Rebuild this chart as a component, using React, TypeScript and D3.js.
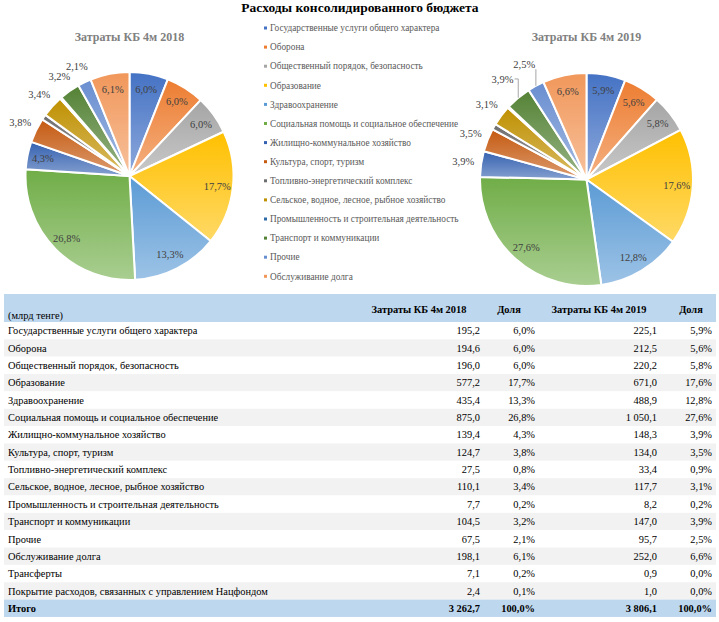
import React, { useEffect, useRef } from "react";
import * as d3 from "d3";

// Table rows (the first 14 are also drawn in the pies)
const categories = [
  "Государственные услуги общего характера",
  "Оборона",
  "Общественный порядок, безопасность",
  "Образование",
  "Здравоохранение",
  "Социальная помощь и социальное обеспечение",
  "Жилищно-коммунальное хозяйство",
  "Культура, спорт, туризм",
  "Топливно-энергетический комплекс",
  "Сельское, водное, лесное, рыбное хозяйство",
  "Промышленность и строительная деятельность",
  "Транспорт и коммуникации",
  "Прочие",
  "Обслуживание долга",
  "Трансферты",
  "Покрытие расходов, связанных с управлением Нацфондом",
];
const values2018 = [195.2, 194.6, 196.0, 577.2, 435.4, 875.0, 139.4, 124.7, 27.5, 110.1, 7.7, 104.5, 67.5, 198.1, 7.1, 2.4];
const shares2018 = [6.0, 6.0, 6.0, 17.7, 13.3, 26.8, 4.3, 3.8, 0.8, 3.4, 0.2, 3.2, 2.1, 6.1, 0.2, 0.1];
const values2019 = [225.1, 212.5, 220.2, 671.0, 488.9, 1050.1, 148.3, 134.0, 33.4, 117.7, 8.2, 147.0, 95.7, 252.0, 0.9, 1.0];
const shares2019 = [5.9, 5.6, 5.8, 17.6, 12.8, 27.6, 3.9, 3.5, 0.9, 3.1, 0.2, 3.9, 2.5, 6.6, 0.0, 0.0];
const total2018 = 3262.7;
const total2019 = 3806.1;
const pieCount = 14;

const colors = [
  "#4472C4", "#ED7D31", "#A5A5A5", "#FFC000", "#5B9BD5", "#70AD47",
  "#3461B0", "#C55A11", "#6E6E6E", "#BF9000", "#2E6BA8", "#548235",
  "#698ED0", "#F1975A",
];

const locale = d3.formatLocale({ decimal: ",", thousands: "\u00a0", grouping: [3], currency: ["", ""] });
const fmtNum = locale.format(",.1f");
const fmtPct = (v: number) => locale.format(".1f")(v) + "%";

const W = 719;
const H = 622;
const serif = '"Liberation Serif", Tinos, "DejaVu Serif", serif';

export default function App() {
  const ref = useRef<SVGSVGElement>(null);

  useEffect(() => {
    document.body.style.margin = "0";
    const svg = d3.select(ref.current);
    svg.selectAll("*").remove();
    svg.style("font-family", serif);

    const defs = svg.append("defs");
    colors.forEach((c, i) => {
      const g = defs
        .append("linearGradient")
        .attr("id", `grad${i}`)
        .attr("x1", 0).attr("y1", 0).attr("x2", 0).attr("y2", 1);
      g.append("stop").attr("offset", "0%").attr("stop-color", c);
      g.append("stop").attr("offset", "100%").attr("stop-color", d3.interpolateRgb(c, "#ffffff")(0.4));
    });

    svg
      .append("text")
      .attr("x", 360)
      .attr("y", 12)
      .attr("text-anchor", "middle")
      .attr("font-size", 13.5)
      .attr("font-weight", "bold")
      .text("Расходы консолидированного бюджета");

    // Pies
    const drawPie = (
      cx: number,
      cy: number,
      R: number,
      title: string,
      values: number[],
      shares: number[],
      outside: number[],
      leaders: number[]
    ) => {
      const g = svg.append("g").attr("transform", `translate(${cx},${cy})`);
      svg
        .append("text")
        .attr("x", cx)
        .attr("y", 41)
        .attr("text-anchor", "middle")
        .attr("font-size", 12)
        .attr("font-weight", "bold")
        .attr("fill", "#808080")
        .text(title);

      const pie = d3.pie<number>().sort(null).value((d) => d);
      const arcs = pie(values.slice(0, pieCount));
      const arc = d3.arc<d3.PieArcDatum<number>>().innerRadius(0).outerRadius(R);

      g.selectAll("path")
        .data(arcs)
        .join("path")
        .attr("d", arc)
        .attr("fill", (d, i) => `url(#grad${i})`)
        .attr("stroke", "#fff")
        .attr("stroke-width", 2)
        .attr("stroke-linejoin", "round");

      arcs.forEach((a, i) => {
        if (shares[i] < 1) return;
        const mid = (a.startAngle + a.endAngle) / 2;
        const isOut = outside.includes(i);
        const hasLeader = leaders.includes(i);
        const r = hasLeader ? R * 1.23 : isOut ? R * 1.17 : R * 0.85;
        const x = Math.sin(mid) * r;
        const y = -Math.cos(mid) * r;
        g.append("text")
          .attr("x", x)
          .attr("y", y)
          .attr("dy", "0.35em")
          .attr("text-anchor", "middle")
          .attr("font-size", 10.5)
          .attr("fill", "#404040")
          .text(fmtPct(shares[i]));
        if (hasLeader) {
          const ex = Math.sin(mid) * R;
          const ey = -Math.cos(mid) * R;
          const lx = x + 12;
          const path = ex - lx > 2 ? `M${lx},${y}H${ex}V${ey}` : `M${ex},${y + 5}V${ey}`;
          g.append("path")
            .attr("d", path)
            .attr("fill", "none")
            .attr("stroke", "#a6a6a6")
            .attr("stroke-width", 1);
        }
      });
    };

    drawPie(129.5, 176, 104, "Затраты КБ 4м 2018", values2018, shares2018, [7, 9, 11, 12], []);
    drawPie(586.5, 179.5, 106.5, "Затраты КБ 4м 2019", values2019, shares2019, [6, 7, 9], [11, 12]);

    // Legend
    const legend = svg.append("g");
    categories.slice(0, pieCount).forEach((c, i) => {
      const y = 28 + i * 19.1;
      legend
        .append("rect")
        .attr("x", 264)
        .attr("y", y - 1.5)
        .attr("width", 3)
        .attr("height", 3)
        .attr("fill", colors[i]);
      legend
        .append("text")
        .attr("x", 270)
        .attr("y", y)
        .attr("dy", "0.35em")
        .attr("font-size", 9.3)
        .attr("fill", "#595959")
        .text(c);
    });

    // Table
    const tableX = 4;
    const tableW = 712;
    const headTop = 294;
    const rowTop = 322;
    const rowH = 17.35;
    const rows = d3.range(categories.length);
    const y = d3.scaleLinear().domain([0, 1]).range([rowTop, rowTop + rowH]);

    const t = svg.append("g").attr("font-size", 10.4).attr("fill", "#000");
    t.append("rect")
      .attr("x", tableX)
      .attr("y", headTop)
      .attr("width", tableW)
      .attr("height", rowTop - headTop)
      .attr("fill", "#BDD7EE");
    t.selectAll("rect.row")
      .data(rows)
      .join("rect")
      .attr("class", "row")
      .attr("x", tableX)
      .attr("y", (i) => y(i))
      .attr("width", tableW)
      .attr("height", rowH)
      .attr("fill", (i) => (i % 2 === 1 ? "#F2F2F2" : "#FFFFFF"));
    t.append("rect")
      .attr("x", tableX)
      .attr("y", y(categories.length))
      .attr("width", tableW)
      .attr("height", rowH)
      .attr("fill", "#BDD7EE");

    t.append("text").attr("x", 8).attr("y", 315).attr("dy", "0.35em").text("(млрд тенге)");
    const heads: [string, number][] = [
      ["Затраты КБ 4м 2018", 419],
      ["Доля", 509],
      ["Затраты КБ 4м 2019", 599],
      ["Доля", 691],
    ];
    heads.forEach(([h, x]) =>
      t.append("text")
        .attr("x", x)
        .attr("y", 309)
        .attr("dy", "0.35em")
        .attr("text-anchor", "middle")
        .attr("font-weight", "bold")
        .text(h)
    );

    const cols: [number, (i: number) => string][] = [
      [480, (i) => fmtNum(values2018[i])],
      [535, (i) => fmtPct(shares2018[i])],
      [657, (i) => fmtNum(values2019[i])],
      [712, (i) => fmtPct(shares2019[i])],
    ];
    rows.forEach((i) => {
      const cy = y(i + 0.5);
      t.append("text").attr("x", 8).attr("y", cy).attr("dy", "0.35em").text(categories[i]);
      cols.forEach(([x, f]) =>
        t.append("text").attr("x", x).attr("y", cy).attr("dy", "0.35em").attr("text-anchor", "end").text(f(i))
      );
    });

    const ty = y(categories.length + 0.5);
    t.append("text").attr("x", 8).attr("y", ty).attr("dy", "0.35em").attr("font-weight", "bold").text("Итого");
    const totals = [fmtNum(total2018), fmtPct(100), fmtNum(total2019), fmtPct(100)];
    cols.forEach(([x], k) =>
      t.append("text")
        .attr("x", x)
        .attr("y", ty)
        .attr("dy", "0.35em")
        .attr("text-anchor", "end")
        .attr("font-weight", "bold")
        .text(totals[k])
    );
  }, []);

  return <svg ref={ref} width={W} height={H} style={{ display: "block", background: "#fff" }} />;
}
